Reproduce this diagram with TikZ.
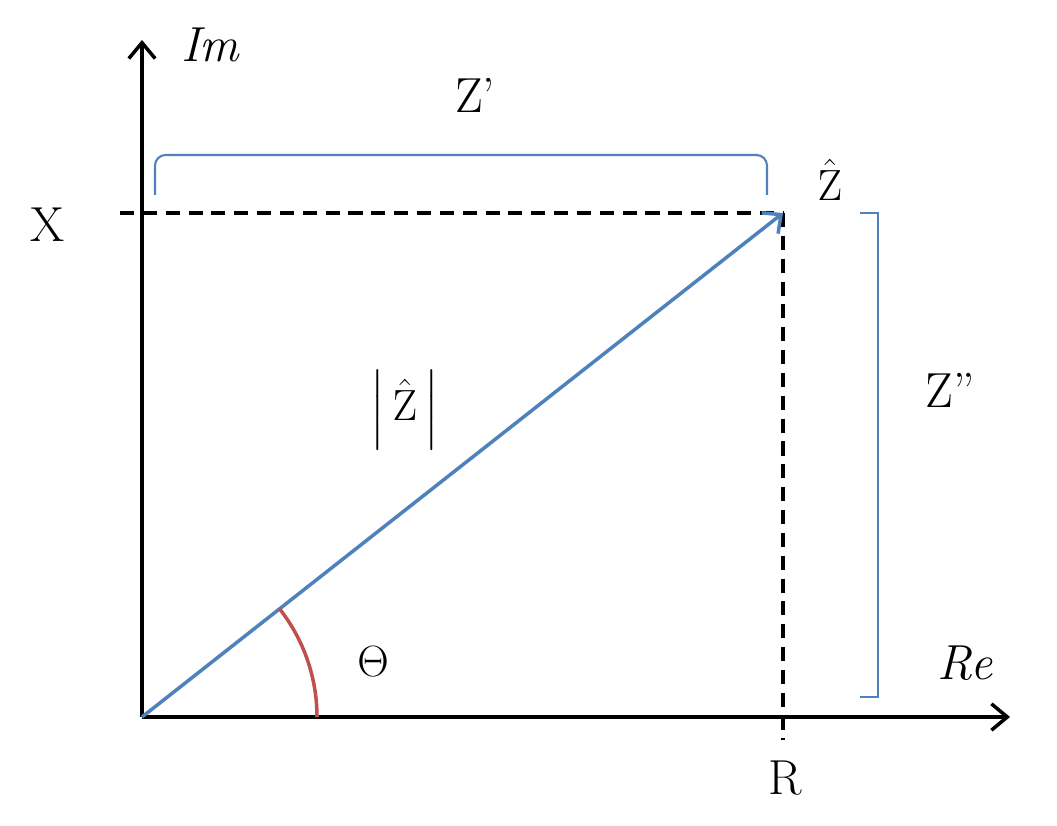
\documentclass[tikz,border=0pt]{standalone}
\usepackage{amsmath}
\usetikzlibrary{arrows.meta}
\definecolor{vecblue}{RGB}{79,129,189}
\definecolor{arcred}{RGB}{192,80,77}
\tikzset{lbl/.style={font=\fontsize{28}{32}\selectfont},
  axis/.style={line width=2pt,-{Straight Barb[length=9pt,width=15pt]}},
  proj/.style={line width=1.8pt,dash pattern=on 8pt off 5pt}}
\begin{document}
\begin{tikzpicture}
\useasboundingbox (0,0) rectangle (21.14,16.5);
% The axes
\coordinate (O) at (2.84,2.16);
\draw[axis] (O) -- (20.2,2.16) coordinate (xaxis);
\draw[axis] (O) -- (2.84,15.7) coordinate (yaxis);
\coordinate (Z) at (15.66,12.24);

% The projections
\draw[proj] (2.4,12.24) -- (Z);
\draw[proj] (Z) -- (15.66,1.7);

% The vector
\draw[vecblue,line width=2pt,-{Straight Barb[length=8pt,width=15pt]}] (O) -- (Z);
\draw[arcred,line width=2pt] ([shift={(0:3.5)}]O) arc (0:38.2:3.5);

% The brackets
\draw[vecblue,line width=1.2pt,rounded corners=6pt] (3.1,12.6) -- (3.1,13.4) -- (15.34,13.4) -- (15.34,12.6);
\draw[vecblue,line width=1.2pt] (17.2,12.24) -- (17.56,12.24) -- (17.56,2.56) -- (17.2,2.56);

% The labels
\node[lbl] (X) at (0.96,12.0) {X};
\node[lbl] (R) at (15.7,0.94) {R};
\node[lbl] (Im) at (4.2,15.6) {\itshape Im};
\node[lbl] (Re) at (19.3,3.24) {\itshape Re};
\node[lbl] (Zp) at (9.5,14.6) {Z'};
\node[lbl] (Zpp) at (19,8.7) {Z''};
\node[lbl] (Zh) at (16.6,12.9) {$\hat{\mathrm{Z}}$};
\node[lbl] (mag) at (8.1,8.3) {$\Bigl|\,\hat{\mathrm{Z}}\,\Bigr|$};
\node[lbl] (th) at (7.46,3.26) {$\Theta$};
\end{tikzpicture}
\end{document}
